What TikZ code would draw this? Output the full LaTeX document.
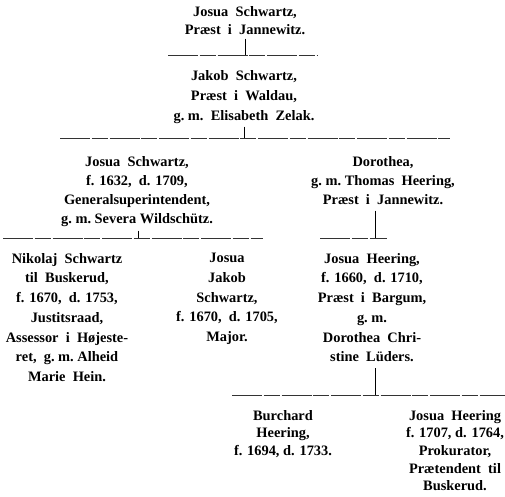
\documentclass[tikz,border=0pt]{standalone}
\usepackage{fontspec}
\setmainfont{Liberation Serif}
\usetikzlibrary{calc}
\tikzset{
  person/.style={align=center, inner sep=0pt, anchor=north,
    font=\bfseries\fontsize{14.4}{#1}\selectfont},
  person/.default=19.5,
  famline/.style={line width=0.5pt, black!80, dash pattern=on 30pt off 1.5pt on 16pt off 2pt},
  descline/.style={line width=0.7pt},
}
\begin{document}
\begin{tikzpicture}[x=1pt,y=-1pt]
			%%%%% START %%%%%
			\useasboundingbox (0,0) rectangle (505,496);
			
			% first generations
			\node[person=18] (jsw1) at (245,6) {Josua\ \ Schwartz,\\Præst\ \ i\ \ Jannewitz.};
			\node[person=20] (jak) at (244,70) {Jakob\ \ Schwartz,\\Præst\ \ i\ \ Waldau,\\g.\ m.\ \ Elisabeth\ \ Zelak.};
			
			\coordinate (b1l) at (168,55); \coordinate (b1r) at (318,55);
			\coordinate (b1t) at (245,55);
			\draw[famline] (b1l) -- (b1r);
			\draw[descline] ($(jsw1.south)+(0,4)$) -- (b1t);
			
			% children of Jakob
			\node[person=19] (jsw2) at (137,156) {Josua\ \ Schwartz,\\f. 1632,\ \ d. 1709,\\Generalsuperintendent,\\g.\ m.\ Severa Wildschütz.};
			\node[person=19] (dor) at (383,156) {Dorothea,\\g.\ m.\ Thomas\ \ Heering,\\Præst\ \ i\ \ Jannewitz.};
			
			\coordinate (b2l) at (60,138); \coordinate (b2r) at (450,138);
			\coordinate (b2t) at (244,138);
			\draw[famline] (b2l) -- (b2r);
			\draw[descline] ($(jak.south)+(0,3)$) -- (b2t);
			
			% children of Josua and Dorothea
			\node[person=19.7] (nik) at (67,253) {Nikolaj\ \ Schwartz\\til\ \ Buskerud,\\f. 1670,\ \ d. 1753,\\Justitsraad,\\Assessor\ \ i\ \ Højeste-\\ret,\ \ g.\ m.\ Alheid\\Marie\ \ Hein.};
			\node[person=19.7] (jjs) at (227,253) {Josua\\Jakob\\Schwartz,\\f. 1670,\ \ d. 1705,\\Major.};
			\node[person=19.7] (jhe1) at (372,253) {Josua\ \ Heering,\\f. 1660,\ \ d. 1710,\\Præst\ \ i\ \ Bargum,\\g.\ m.\\Dorothea\ \ Chri-\\stine\ \ Lüders.};
			
			\coordinate (b3l) at (3,238); \coordinate (b3r) at (263,238);
			\coordinate (b3t) at (138,238);
			\draw[famline] (b3l) -- (b3r);
			\draw[descline] ($(jsw2.south -| b3t)+(0,4)$) -- (b3t);
			
			\coordinate (b4l) at (320,238); \coordinate (b4r) at (387,238);
			\coordinate (b4t) at (375,238);
			\draw[famline] (b4l) -- (b4r);
			\draw[descline] ($(dor.south -| b4t)+(0,6)$) -- (b4t);
			
			% children of Josua Heering
			\node[person=17.6] (bur) at (283,410) {Burchard\\Heering,\\f. 1694, d. 1733.};
			\node[person=17.6] (jhe2) at (455,410) {Josua\ \ Heering\\f. 1707, d. 1764,\\Prokurator,\\Prætendent\ \ til\\Buskerud.};
			
			\coordinate (b5l) at (232,395); \coordinate (b5r) at (505,395);
			\coordinate (b5t) at (375,395);
			\draw[famline] (b5l) -- (b5r);
			\draw[descline] ($(jhe1.south -| b5t)+(0,6)$) -- (b5t);
			
			%%%%% END %%%%%
\end{tikzpicture}
\end{document}
